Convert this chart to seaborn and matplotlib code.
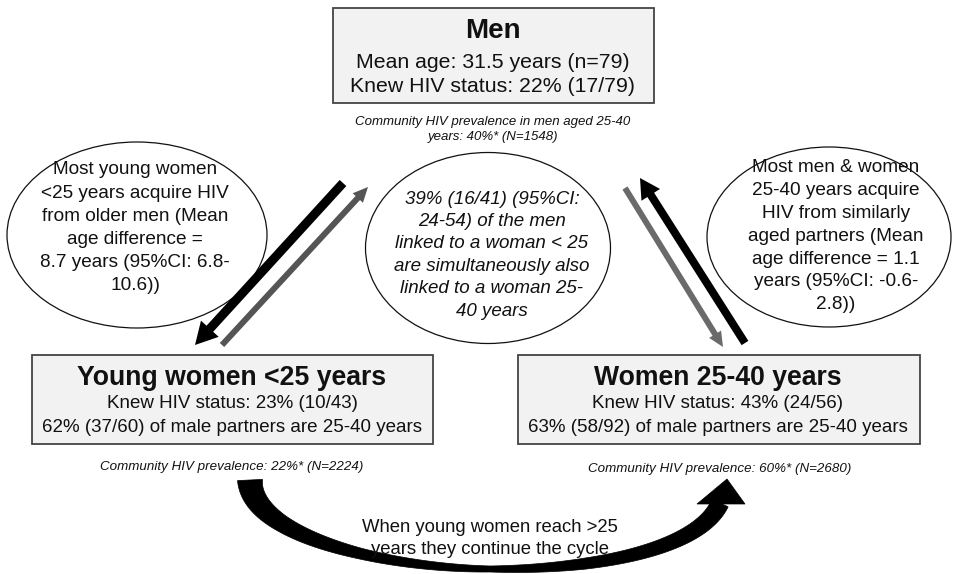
import numpy as np
import matplotlib
matplotlib.use("Agg")
import matplotlib.pyplot as plt
import seaborn as sns
from matplotlib.patches import Rectangle, Ellipse, Polygon

# texts of the diagram
men_title = "Men"
men_lines = ["Mean age: 31.5 years (n=79)", "Knew HIV status: 22% (17/79)"]
men_community = ["Community HIV prevalence in men aged 25-40", "years: 40%* (N=1548)"]

young_title = "Young women <25 years"
young_lines = ["Knew HIV status: 23% (10/43)", "62% (37/60) of male partners are 25-40 years"]
young_community = "Community HIV prevalence: 22%* (N=2224)"

older_title = "Women 25-40 years"
older_lines = ["Knew HIV status: 43% (24/56)", "63% (58/92) of male partners are 25-40 years"]
older_community = "Community HIV prevalence: 60%* (N=2680)"

left_bubble = ["Most young women", "<25 years acquire HIV", "from older men (Mean",
               "age difference =", "8.7 years (95%CI: 6.8-", "10.6))"]
middle_bubble = ["39% (16/41) (95%CI:", "24-54) of the men", "linked to a woman < 25",
                 "are simultaneously also", "linked to a woman 25-", "40 years"]
right_bubble = ["Most men & women", "25-40 years acquire", "HIV from similarly",
                "aged partners (Mean", "age difference = 1.1", "years (95%CI: -0.6-", "2.8))"]
cycle_text = ["When young women reach >25", "years they continue the cycle"]

sns.set_theme(style="white")
plt.rcParams["font.family"] = ["Liberation Sans", "DejaVu Sans"]
plt.rcParams["text.color"] = "#111111"

fig = plt.figure(figsize=(9.56, 5.74), dpi=100)
ax = fig.add_axes([0, 0, 1, 1])
ax.set_xlim(0, 956)
ax.set_ylim(574, 0)
ax.axis("off")


def stack(x, y0, step, items, **kw):
    for i, s in enumerate(items):
        ax.text(x, y0 + i * step, s, ha="center", va="center", color="#111111", **kw)


def box(x0, y0, x1, y1):
    ax.add_patch(Rectangle((x0, y0), x1 - x0, y1 - y0, facecolor="#f2f2f2",
                           edgecolor="#444444", lw=1.3, zorder=1))


# boxes
box(333, 8, 654, 103)
stack(493, 31, 0, [men_title], fontsize=20, fontweight="bold")
stack(493, 62, 25, men_lines, fontsize=15.3)
stack(493, 122, 15, men_community, fontsize=9.5, style="italic")

box(32, 355, 433, 444)
stack(232, 378, 0, [young_title], fontsize=19.2, fontweight="bold")
stack(232, 403, 25, young_lines, fontsize=13.5)
stack(232, 467, 0, [young_community], fontsize=9.6, style="italic")

box(518, 355, 920, 444)
stack(718, 378, 0, [older_title], fontsize=19.2, fontweight="bold")
stack(718, 403, 25, older_lines, fontsize=13.5)
stack(720, 469, 0, [older_community], fontsize=9.6, style="italic")

# bubbles
for cx, cy, w, h in [(137, 235, 260, 186), (488, 248, 245, 191), (829, 237, 244, 180)]:
    ax.add_patch(Ellipse((cx, cy), w, h, facecolor="white", edgecolor="#111111", lw=0.9, zorder=1))
stack(135, 170, 23.2, left_bubble, fontsize=13.7)
stack(492, 199, 22.4, middle_bubble, fontsize=13.5, style="italic")
stack(836, 168, 22.8, right_bubble, fontsize=13.7)

# straight arrows
ax.arrow(343, 183, 195 - 343, 345 - 183, width=9, head_width=24, head_length=22,
         length_includes_head=True, color="black", lw=0, zorder=3)
ax.arrow(222, 345, 368 - 222, 187 - 345, width=6, head_width=14, head_length=15,
         length_includes_head=True, color="#555555", lw=0, zorder=3)
ax.arrow(625, 188, 723 - 625, 347 - 188, width=6, head_width=14, head_length=15,
         length_includes_head=True, color="#6a6a6a", lw=0, zorder=3)
ax.arrow(745, 343, 640 - 745, 178 - 343, width=8, head_width=22, head_length=20,
         length_includes_head=True, color="black", lw=0, zorder=3)


# curved cycle arrow
def bez(p, t):
    p = np.array(p, dtype=float)
    t = t[:, None]
    return ((1 - t) ** 3) * p[0] + 3 * ((1 - t) ** 2) * t * p[1] + 3 * (1 - t) * t ** 2 * p[2] + t ** 3 * p[3]


t = np.linspace(0, 1, 80)
seg_a = bez([(250, 480), (251, 535), (380, 568), (490, 569)], t)
seg_b = bez([(490, 569), (600, 570), (700, 548), (720, 503)], t)
centre = np.vstack([seg_a, seg_b[1:]])
s = np.linspace(0, 2, len(centre))
wid = np.interp(s, [0, 0.3, 0.6, 1.0, 1.3, 1.6, 2.0], [25, 17, 11, 6, 11, 14, 18])
tang = np.gradient(centre, axis=0)
tang /= np.linalg.norm(tang, axis=1)[:, None]
norm = np.column_stack([-tang[:, 1], tang[:, 0]])
side1 = centre + norm * wid[:, None] / 2
side2 = centre - norm * wid[:, None] / 2
ax.add_patch(Polygon(np.vstack([side1, side2[::-1]]), closed=True, facecolor="black",
                     edgecolor="black", lw=0.5, zorder=2))
ax.add_patch(Polygon([(697, 504), (745, 504), (727, 479)], closed=True, facecolor="black",
                     edgecolor="black", lw=0.5, zorder=2))
stack(490, 527, 23, cycle_text, fontsize=13.3, zorder=4)

fig.savefig("out.png", dpi=100)
